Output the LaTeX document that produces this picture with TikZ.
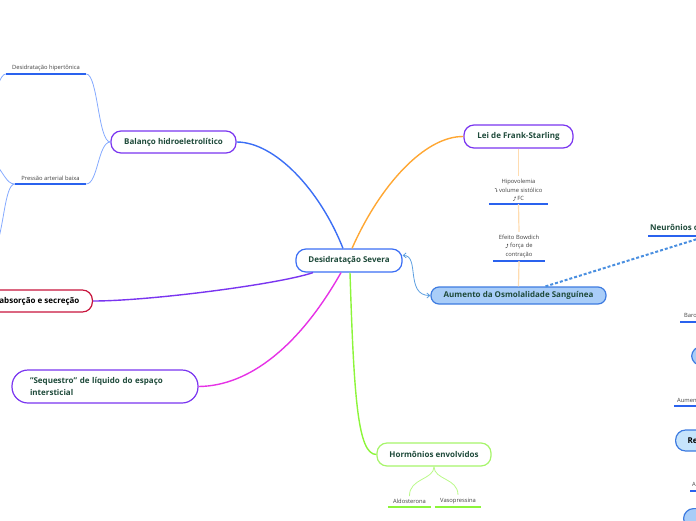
\documentclass[tikz,border=0pt]{standalone}
\usepackage{fontspec}
\setmainfont{Open Sans}
\usetikzlibrary{arrows.meta}
\definecolor{txtg}{HTML}{1E4A3A}
\definecolor{lblc}{HTML}{404040}
\definecolor{cblue}{HTML}{3B6EF5}
\definecolor{cpurple}{HTML}{7A35F0}
\definecolor{corange}{HTML}{FFA733}
\definecolor{cmag}{HTML}{E632E6}
\definecolor{cgreen}{HTML}{8CF53A}
\definecolor{cgreenbox}{HTML}{A6F56A}
\definecolor{ccrimson}{HTML}{C8143C}
\definecolor{cpeach}{HTML}{FFDCB0}
\definecolor{carrow}{HTML}{5C9EE0}
\definecolor{cdash}{HTML}{4A8FE0}
\definecolor{culine}{HTML}{2A62EE}
\definecolor{csub}{HTML}{85AAFF}
\definecolor{osmfill}{HTML}{A9CDF8}
\definecolor{osmdraw}{HTML}{3D7BE0}
\definecolor{lbfill}{HTML}{C6E4FC}
% curved arrow symbols (no installed family has U+2934/U+2935)
\newcommand{\curvdown}{\tikz[baseline=0pt,x=1pt,y=1pt]{\draw[lblc,line width=0.35pt,-{Stealth[length=1.3pt,width=1.4pt]}] (0,4) .. controls (1.6,4) and (2,3) .. (2,0.2);}}
\newcommand{\curvup}{\tikz[baseline=0pt,x=1pt,y=1pt]{\draw[lblc,line width=0.35pt,-{Stealth[length=1.3pt,width=1.4pt]}] (0,0) .. controls (1.6,0) and (2,1) .. (2,4.2);}}
\begin{document}
\begin{tikzpicture}[x=1pt,y=-1pt,
  box/.style={draw, line width=1.2pt, rounded corners=10pt, fill=white, text=txtg,
    font=\bfseries\fontsize{8}{9.5}\selectfont, inner sep=0pt},
  lbl/.style={font=\fontsize{5.8}{8.5}\selectfont, text=lblc, align=center, inner xsep=0pt, inner ysep=3pt, anchor=south},
  uline/.style={culine, line width=1.3pt},
  gline/.style={cgreen, line width=1.3pt},
  subc/.style={csub, line width=0.8pt},
  main/.style={line width=1.4pt},
]
\useasboundingbox (0,0) rectangle (696,520);

% ---------- nodes ----------
\node[box, draw=cblue, minimum width=106pt, minimum height=23pt] (root) at (349,260.5) {Desidratação Severa};
\node[box, draw=cpurple, minimum width=125pt, minimum height=22pt] (bal) at (173.5,142) {Balanço hidroeletrolítico};
\node[box, draw=cpurple, minimum width=109pt, minimum height=23pt] (fs) at (518.5,136.5) {Lei de Frank-Starling};
\node[box, draw=osmdraw, fill=osmfill, rounded corners=8pt, minimum width=175pt, minimum height=17pt] (osm) at (518.5,295.5) {Aumento da Osmolalidade Sanguínea};
\node[box, draw=ccrimson, text=black, anchor=east, inner xsep=13pt, minimum height=22pt] (reab) at (93,301) {Re-absorção e secreção};
\node[box, draw=cpurple, rounded corners=16pt, minimum height=33pt, text width=150pt, align=left, inner xsep=18pt,
  font=\bfseries\fontsize{8}{12}\selectfont] (seq) at (105,386.5) {"Sequestro" de líquido do espaço\\intersticial};
\node[box, draw=cgreenbox, minimum width=114pt, minimum height=23pt] (horm) at (434,454.5) {Hormônios envolvidos};

% labels with underline
\node[lbl, minimum width=80pt] (hip) at (46,74) {Desidratação hipertônica};
\node[lbl, minimum width=71pt] (pab) at (50.5,184) {Pressão arterial baixa};
\node[lbl, minimum width=59pt] (hipov) at (518.5,204) {Hipovolemia\\\curvdown\ volume sistólico\\\curvup\ FC};
\node[lbl, minimum width=52pt, text width=42pt] (bowd) at (519,261) {Efeito Bowdich\\\curvup\ força de\\contração};
\node[lbl, minimum width=43pt] (aldo) at (409.5,507) {Aldosterona};
\node[lbl, minimum width=46pt] (vaso) at (458,507) {Vasopressina};

% right-edge partial nodes
\node[lbl, anchor=south west, inner xsep=2pt, text=txtg, font=\bfseries\fontsize{8}{9.5}\selectfont] (neur) at (648,236) {Neurônios osmorreceptores};
\node[lbl, anchor=south west, inner xsep=4pt] (baro) at (680,322) {Barorreceptores};
\node[box, draw=osmdraw, fill=osmfill, anchor=west, minimum width=60pt, minimum height=19pt] (bl1) at (691,356) {};
\node[lbl, anchor=south west, inner xsep=3pt] (aume) at (674,406) {Aumento};
\node[box, draw=osmdraw, fill=lbfill, text=black, anchor=west, inner xsep=12pt, minimum height=21pt] (ren) at (675,440.5) {Renina};
\node[lbl, anchor=south west, inner xsep=2pt] (ang) at (690,491) {Angiotensina};
\node[box, draw=osmdraw, fill=osmfill, anchor=north west, minimum width=60pt, minimum height=20pt] (bl2) at (683,508) {};

% off-canvas targets
\coordinate (hipc) at (-12,110);
\coordinate (pabu) at (-8,160);
\coordinate (pabd) at (-6,250);
\coordinate (neurt) at (740,225.7);

% ---------- underlines ----------
\foreach \n in {hip,pab,hipov,bowd,neur,baro,aume,ang}{\draw[uline] (\n.south west) -- (\n.south east);}
\draw[gline] (aldo.south west) -- (aldo.south east);
\draw[gline] (vaso.south west) -- (vaso.south east);

% ---------- connectors ----------
\draw[main, cblue] ([xshift=-6pt]root.north) .. controls (320,190) and (275,142) .. (bal.east);
\draw[main, corange] ([xshift=3pt]root.north) .. controls (380,185) and (425,136) .. (fs.west);
\draw[main, cpurple] ([xshift=-36pt]root.south) .. controls (280,284) and (150,301) .. (reab.east);
\draw[main, cmag] ([xshift=-8pt]root.south) .. controls (300,345) and (250,386) .. (seq.east);
\draw[main, cgreen] ([xshift=1pt]root.south) .. controls (354,400) and (358,454.5) .. (horm.west);

\draw[subc] (bal.west) .. controls (98,142) and (98,74) .. (hip.south east);
\draw[subc] (bal.west) .. controls (98,142) and (98,184) .. (pab.south east);
\draw[subc] (hip.south west) .. controls (0,74) and (-4,92) .. (hipc);
\draw[subc] (pab.south west) .. controls (6,184) and (4,172) .. (pabu);
\draw[subc] (pab.south west) .. controls (4,184) and (4,235) .. (pabd);

\draw[cgreen!60, line width=0.8pt] (horm.south) .. controls (434,480) and (409,478) .. (aldo.north);
\draw[cgreen!60, line width=0.8pt] (horm.south) .. controls (434,480) and (458,478) .. (vaso.north);

\draw[cpeach, line width=1.2pt] (fs.south) -- (hipov.north);
\draw[cpeach, line width=1.2pt] (hipov.south) -- (bowd.north);
\draw[cpeach, line width=1.2pt] (bowd.south) -- (osm.north);

\draw[carrow, line width=0.8pt, {Straight Barb[length=3pt,width=5pt]}-{Straight Barb[length=3pt,width=5pt]}]
  ([yshift=5pt]root.east) .. controls (420,255) and (405,295.5) .. (osm.west);

\draw[cdash, line width=2pt, dash pattern=on 3pt off 2pt] ([xshift=27pt]osm.north) -- (neurt);
\end{tikzpicture}
\end{document}
